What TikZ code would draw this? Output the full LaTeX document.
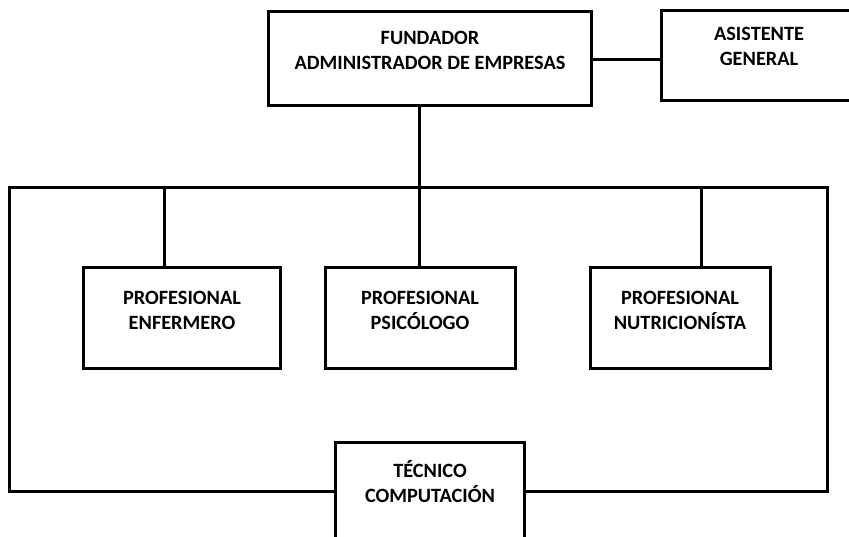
\documentclass[tikz,border=0pt]{standalone}
\usepackage{fontspec}
\setmainfont{Carlito}
\begin{document}
\begin{tikzpicture}[x=1pt,y=-1pt,
  box/.style={draw, line width=3pt, inner sep=0pt},
  txt/.style={font=\bfseries\fontsize{20.3}{25}\selectfont, align=center, inner sep=0pt},
  conn/.style={line width=3pt}]
\useasboundingbox (0,0) rectangle (849,537);
\clip (0,0) rectangle (849,537);
% boxes
\node[box, minimum width=323pt, minimum height=94pt] (fund) at (429.5,58.5) {};
\node[txt] (fundt) at (430,50) {FUNDADOR\\ADMINISTRADOR DE EMPRESAS};
\node[box, minimum width=196pt, minimum height=90pt] (asis) at (759,56) {};
\node[txt] (asist) at (759,46) {ASISTENTE\\GENERAL};
\node[box, minimum width=197pt, minimum height=101pt] (enf) at (181.5,318.5) {};
\node[txt] (enft) at (182,310) {PROFESIONAL\\ENFERMERO};
\node[box, minimum width=190pt, minimum height=101pt] (psi) at (420,318.5) {};
\node[txt] (psit) at (420,310) {PROFESIONAL\\PSICÓLOGO};
\node[box, minimum width=180pt, minimum height=101pt] (nut) at (680,318.5) {};
\node[txt] (nutt) at (680,310) {PROFESIONAL\\NUTRICIONÍSTA};
\node[box, minimum width=189pt, minimum height=140pt] (tec) at (429.5,512) {};
\node[txt] (tect) at (430,482) {TÉCNICO\\COMPUTACIÓN};
% coordinates
\coordinate (hl) at (9,188);
\coordinate (hr) at (827,188);
\coordinate (bl) at (9,491);
\coordinate (br) at (827,491);
\coordinate (hm) at (419,188);
% connectors
\draw[conn] (fund.east |- 0,60) -- (asis.west |- 0,60);
\draw[conn] (fund.south -| hm) -- (psi.north -| hm);
\draw[conn, line join=miter] (tec.west |- bl) -- (bl) -- (hl) -- (hr) -- (br) -- (tec.east |- br);
\draw[conn] (hl -| 164,0) -- (enf.north -| 164,0);
\draw[conn] (hr -| 701,0) -- (nut.north -| 701,0);
\end{tikzpicture}
\end{document}
